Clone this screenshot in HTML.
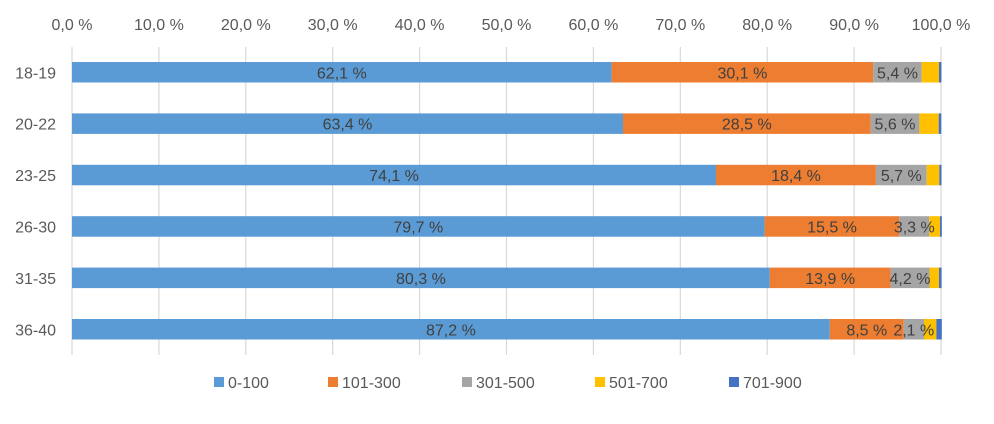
<!DOCTYPE html>
<html><head><meta charset="utf-8"><style>
html,body{margin:0;padding:0;background:#fff;}
svg{display:block;}
text{font-family:"Liberation Sans",sans-serif;font-size:16px;}
</style></head><body>
<svg width="994" height="424" viewBox="0 0 994 424" xmlns="http://www.w3.org/2000/svg">
<rect width="994" height="424" fill="#fff"/>
<g stroke="#d9d9d9" stroke-width="1.2">
<line x1="72" y1="47" x2="72" y2="355"/>
<line x1="158.9" y1="47" x2="158.9" y2="355"/>
<line x1="245.8" y1="47" x2="245.8" y2="355"/>
<line x1="332.7" y1="47" x2="332.7" y2="355"/>
<line x1="419.6" y1="47" x2="419.6" y2="355"/>
<line x1="506.5" y1="47" x2="506.5" y2="355"/>
<line x1="593.4" y1="47" x2="593.4" y2="355"/>
<line x1="680.3" y1="47" x2="680.3" y2="355"/>
<line x1="767.2" y1="47" x2="767.2" y2="355"/>
<line x1="854.1" y1="47" x2="854.1" y2="355"/>
<line x1="941" y1="47" x2="941" y2="355"/>
</g>
<g fill="#595959" text-anchor="middle">
<text x="72" y="30">0,0 %</text>
<text x="158.9" y="30">10,0 %</text>
<text x="245.8" y="30">20,0 %</text>
<text x="332.7" y="30">30,0 %</text>
<text x="419.6" y="30">40,0 %</text>
<text x="506.5" y="30">50,0 %</text>
<text x="593.4" y="30">60,0 %</text>
<text x="680.3" y="30">70,0 %</text>
<text x="767.2" y="30">80,0 %</text>
<text x="854.1" y="30">90,0 %</text>
<text x="941" y="30">100,0 %</text>
</g>
<g fill="#595959" text-anchor="end">
<text x="56" y="78.3">18-19</text>
<text x="56" y="129.7">20-22</text>
<text x="56" y="181.1">23-25</text>
<text x="56" y="232.5">26-30</text>
<text x="56" y="283.9">31-35</text>
<text x="56" y="335.3">36-40</text>
</g>
<g id="bars"></g>
<g id="labels" fill="#404040" text-anchor="middle"></g>
<!-- legend -->
<g fill="#595959">
<rect x="214" y="377" width="10" height="10" fill="#5B9BD5"/><text x="228" y="388">0-100</text>
<rect x="328" y="377" width="10" height="10" fill="#ED7D31"/><text x="342" y="388">101-300</text>
<rect x="462" y="377" width="10" height="10" fill="#A5A5A5"/><text x="476" y="388">301-500</text>
<rect x="595" y="377" width="10" height="10" fill="#FFC000"/><text x="609" y="388">501-700</text>
<rect x="729" y="377" width="10" height="10" fill="#4472C4"/><text x="743" y="388">701-900</text>
</g>
<!-- Row 1: 62.1, 30.1, 5.4, 2.0, 0.4 -->
<g>
<rect x="72" y="62" width="539.6" height="20.5" fill="#5B9BD5"/>
<rect x="611.6" y="62" width="261.6" height="20.5" fill="#ED7D31"/>
<rect x="873.2" y="62" width="48.5" height="20.5" fill="#A5A5A5"/>
<rect x="921.7" y="62" width="17.3" height="20.5" fill="#FFC000"/>
<rect x="939" y="62" width="2.4" height="20.5" fill="#4472C4"/>
<rect x="72" y="113.4" width="551" height="20.5" fill="#5B9BD5"/>
<rect x="623" y="113.4" width="247.7" height="20.5" fill="#ED7D31"/>
<rect x="870.7" y="113.4" width="48.7" height="20.5" fill="#A5A5A5"/>
<rect x="919.4" y="113.4" width="19.3" height="20.5" fill="#FFC000"/>
<rect x="938.7" y="113.4" width="2.6" height="20.5" fill="#4472C4"/>
<rect x="72" y="164.8" width="644" height="20.5" fill="#5B9BD5"/>
<rect x="716" y="164.8" width="159.9" height="20.5" fill="#ED7D31"/>
<rect x="875.9" y="164.8" width="50.8" height="20.5" fill="#A5A5A5"/>
<rect x="926.7" y="164.8" width="12.6" height="20.5" fill="#FFC000"/>
<rect x="939.3" y="164.8" width="2.2" height="20.5" fill="#4472C4"/>
<rect x="72" y="216.2" width="692.6" height="20.5" fill="#5B9BD5"/>
<rect x="764.6" y="216.2" width="134.7" height="20.5" fill="#ED7D31"/>
<rect x="899.3" y="216.2" width="30" height="20.5" fill="#A5A5A5"/>
<rect x="929.3" y="216.2" width="10.7" height="20.5" fill="#FFC000"/>
<rect x="940" y="216.2" width="1.8" height="20.5" fill="#4472C4"/>
<rect x="72" y="267.6" width="697.8" height="20.5" fill="#5B9BD5"/>
<rect x="769.8" y="267.6" width="120.8" height="20.5" fill="#ED7D31"/>
<rect x="890.6" y="267.6" width="38.9" height="20.5" fill="#A5A5A5"/>
<rect x="929.5" y="267.6" width="9.5" height="20.5" fill="#FFC000"/>
<rect x="939" y="267.6" width="2.6" height="20.5" fill="#4472C4"/>
<rect x="72" y="319" width="757.8" height="20.5" fill="#5B9BD5"/>
<rect x="829.8" y="319" width="73.9" height="20.5" fill="#ED7D31"/>
<rect x="903.7" y="319" width="20.3" height="20.5" fill="#A5A5A5"/>
<rect x="924" y="319" width="12.4" height="20.5" fill="#FFC000"/>
<rect x="936.4" y="319" width="5.4" height="20.5" fill="#4472C4"/>
</g>
<g fill="#404040" text-anchor="middle">
<text x="341.8" y="78.3">62,1 %</text>
<text x="742.4" y="78.3">30,1 %</text>
<text x="897.5" y="78.3">5,4 %</text>
<text x="347.5" y="129.7">63,4 %</text>
<text x="746.8" y="129.7">28,5 %</text>
<text x="895" y="129.7">5,6 %</text>
<text x="394" y="181.1">74,1 %</text>
<text x="796" y="181.1">18,4 %</text>
<text x="901.3" y="181.1">5,7 %</text>
<text x="418.3" y="232.5">79,7 %</text>
<text x="832" y="232.5">15,5 %</text>
<text x="914.3" y="232.5">3,3 %</text>
<text x="420.9" y="283.9">80,3 %</text>
<text x="830.2" y="283.9">13,9 %</text>
<text x="910" y="283.9">4,2 %</text>
<text x="450.9" y="335.3">87,2 %</text>
<text x="866.8" y="335.3">8,5 %</text>
<text x="913.8" y="335.3">2,1 %</text>
</g>
</svg>
</body></html>
